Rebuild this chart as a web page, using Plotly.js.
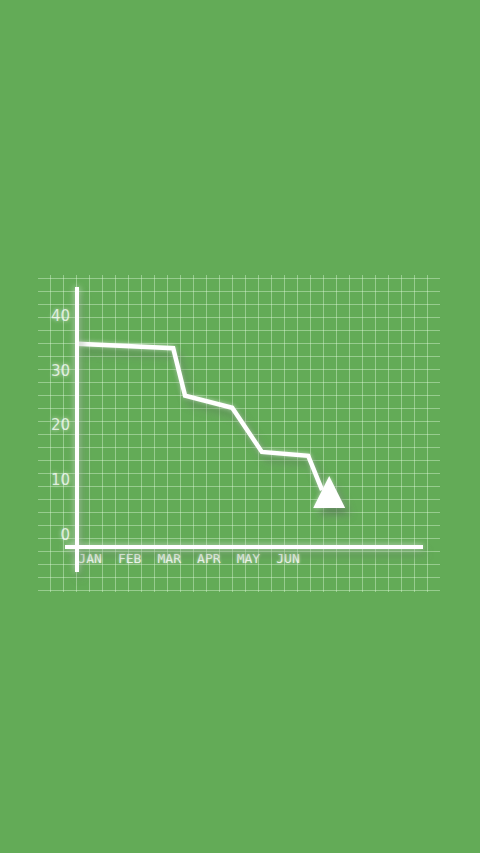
<!DOCTYPE html>
<html>
<head>
<meta charset="utf-8">
<script src="https://cdn.plot.ly/plotly-3.0.1.min.js"></script>
<style>
  html, body { margin: 0; padding: 0; background: #63ab57; }
  #chart { width: 480px; height: 853px; }
  #chart .scatterlayer .trace { filter: drop-shadow(5px 7px 4px rgba(20, 60, 20, 0.45)) drop-shadow(0 0 2px rgba(255,255,255,0.6)); }
  #chart .layer-above .shapelayer { filter: drop-shadow(3px 6px 4px rgba(20, 60, 20, 0.4)) drop-shadow(0 0 3px rgba(255,255,255,0.7)); }
</style>
</head>
<body>
<div id="chart"></div>
<script>
// month labels along the bottom
var months = ['JAN', 'FEB', 'MAR', 'APR', 'MAY', 'JUN'];
var monthPos = [0, 1, 2, 3, 4, 5];
var yTicks = [0, 10, 20, 30, 40];

// falling line (x in months from JAN)
var lineX = [-0.33, 2.10, 2.40, 3.59, 4.34, 5.51, 5.86];
var lineY = [34.9, 34.1, 25.4, 23.2, 15.1, 14.4, 8.1];

// arrow head (tip)
var headX = [6.04];
var headY = [10.7];

var W = 480, H = 853;
function px(x) { return x / W; }
function py(y) { return 1 - y / H; }

var gridTrace = { x: [], y: [], type: 'scatter', xaxis: 'x', yaxis: 'y', hoverinfo: 'none', showlegend: false };

var line = {
  x: lineX, y: lineY, type: 'scatter', mode: 'lines',
  xaxis: 'x2', yaxis: 'y2',
  line: { color: '#ffffff', width: 4.5, shape: 'linear' },
  hoverinfo: 'none'
};

var head = {
  x: headX, y: headY, type: 'scatter', mode: 'markers',
  xaxis: 'x2', yaxis: 'y2',
  marker: { symbol: 'arrow-up', size: 32, color: '#ffffff', line: { width: 0 } },
  hoverinfo: 'none'
};

var layout = {
  width: W, height: H,
  margin: { t: 0, b: 0, l: 0, r: 0 },
  paper_bgcolor: '#63ab57',
  plot_bgcolor: 'rgba(0,0,0,0)',
  showlegend: false,
  // background grid
  xaxis: {
    domain: [px(38), px(440)], range: [0, 31], dtick: 1, tick0: 0,
    showgrid: true, gridcolor: 'rgba(230,255,225,0.4)', gridwidth: 1,
    zeroline: false, showline: false, showticklabels: false, ticks: '',
    fixedrange: true
  },
  yaxis: {
    domain: [py(592), py(275)], range: [0, 24.4], dtick: 1, tick0: 0.13,
    showgrid: true, gridcolor: 'rgba(230,255,225,0.4)', gridwidth: 1,
    zeroline: false, showline: false, showticklabels: false, ticks: '',
    fixedrange: true
  },
  // data axes
  xaxis2: {
    domain: [px(77), px(423)], range: [-0.33, 8.41], anchor: 'y2',
    showgrid: false, zeroline: false, showline: false, ticks: '',
    tickmode: 'array', tickvals: monthPos, ticktext: months,
    ticklabelstandoff: 2,
    tickfont: { family: 'DejaVu Sans Mono', size: 13, color: 'rgba(255,255,255,0.85)',
                shadow: '0 0 3px rgba(255,255,255,0.9)' }
  },
  yaxis2: {
    domain: [py(547), py(287)], range: [-2.3, 45.3], anchor: 'x2',
    showgrid: false, zeroline: false, showline: false, ticks: '',
    tickmode: 'array', tickvals: yTicks,
    ticklabelstandoff: 6,
    tickfont: { family: 'DejaVu Sans', size: 15, color: 'rgba(255,255,255,0.75)',
                shadow: '0 0 4px rgba(255,255,255,0.9)' }
  },
  shapes: [
    { type: 'line', xref: 'paper', yref: 'paper', x0: px(77), x1: px(77), y0: py(572), y1: py(287),
      line: { color: '#ffffff', width: 4 } },
    { type: 'line', xref: 'paper', yref: 'paper', x0: px(65), x1: px(423), y0: py(547), y1: py(547),
      line: { color: '#ffffff', width: 4 } }
  ]
};

Plotly.newPlot('chart', [gridTrace, line, head], layout, { staticPlot: true, displayModeBar: false });
</script>
</body>
</html>
